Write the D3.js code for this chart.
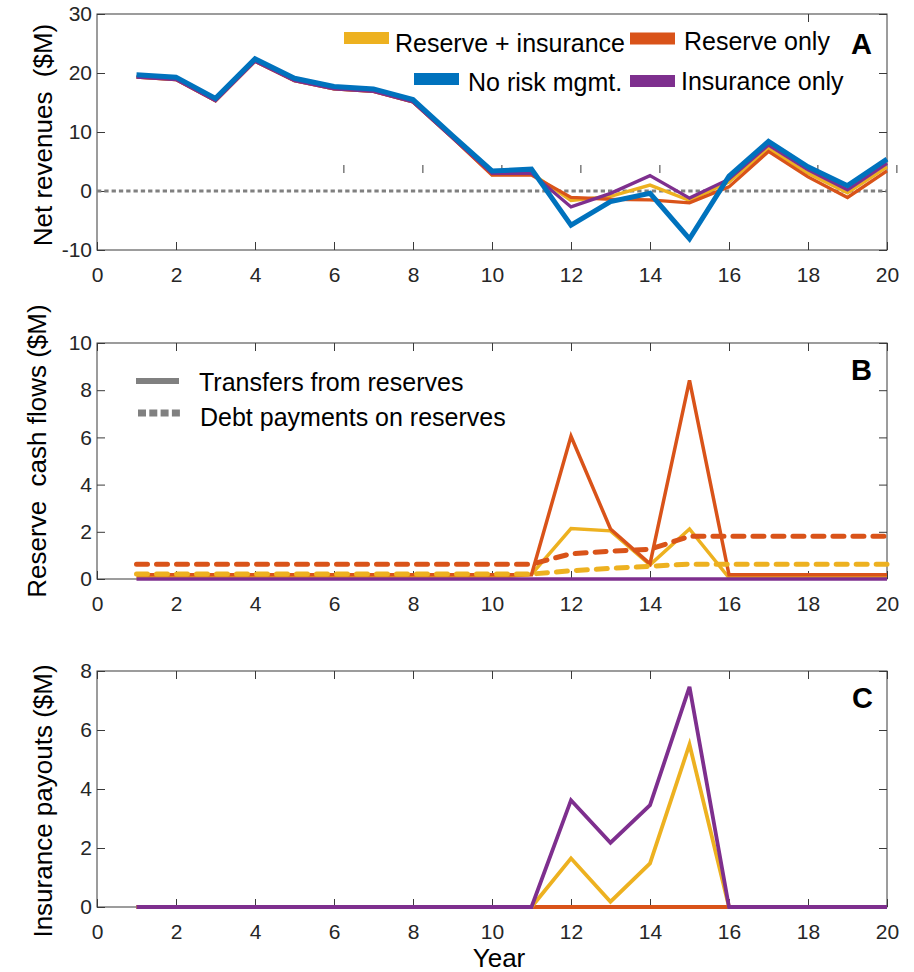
<!DOCTYPE html>
<html><head><meta charset="utf-8">
<script src="https://cdn.jsdelivr.net/npm/d3@7"></script>
<style>
body{margin:0;background:#fff;}
svg{display:block;font-family:"Liberation Sans",Arial,Helvetica,sans-serif;}
</style></head>
<body><svg id="c" width="914" height="972"></svg>
<script>
// ---- data ----
const years = [1,2,3,4,5,6,7,8,9,10,11,12,13,14,15,16,17,18,19,20];
const xTicks = [0,2,4,6,8,10,12,14,16,18,20];

// Panel A: net revenues ($M)
const netNoRisk      = [19.7,19.3,15.7,22.4,19.1,17.7,17.3,15.5,9.4,3.4,3.7,-5.8,-1.8,-0.4,-8.1,2.5,8.4,4.1,0.9,5.4];
const netReserveIns  = [19.3,18.9,15.3,22.0,18.7,17.3,16.9,15.1,9.0,2.8,3.0,-1.6,-0.9,1.0,-1.6,1.5,7.2,3.0,-0.3,4.1];
const netReserveOnly = [19.3,18.9,15.3,22.0,18.7,17.3,16.9,15.1,9.0,2.7,2.7,-1.1,-1.4,-1.5,-2.0,0.7,6.7,2.4,-1.1,3.4];
const netInsOnly     = [19.3,18.9,15.3,22.0,18.7,17.3,16.9,15.1,9.0,3.0,3.0,-2.7,-0.4,2.6,-1.2,2.0,7.8,3.6,0.2,4.7];
const yTicksA = [-10,0,10,20,30];
const legendBoxTicks = [6.25,8.25,10.25,12.25,14.25,16.25,18.25,20.25];

// Panel B: reserve cash flows ($M)
const transferReserveOnly = [0.18,0.18,0.18,0.18,0.18,0.18,0.18,0.18,0.18,0.18,0.18,6.05,2.12,0.64,8.42,0.18,0.18,0.18,0.18,0.18];
const transferReserveIns  = [0.05,0.05,0.05,0.05,0.05,0.05,0.05,0.05,0.05,0.05,0.2,2.14,2.04,0.6,2.12,0.05,0.05,0.05,0.05,0.05];
const transferInsOnly     = [0,0,0,0,0,0,0,0,0,0,0,0,0,0,0,0,0,0,0,0];
const debtReserveOnly     = [0.63,0.63,0.63,0.63,0.63,0.63,0.63,0.63,0.63,0.63,0.63,1.07,1.18,1.26,1.81,1.81,1.81,1.81,1.81,1.81];
const debtReserveIns      = [0.21,0.21,0.21,0.21,0.21,0.21,0.21,0.21,0.21,0.21,0.21,0.35,0.45,0.54,0.63,0.63,0.63,0.63,0.63,0.63];
const yTicksB = [0,2,4,6,8,10];

// Panel C: insurance payouts ($M)
const payReserveOnly = [0,0,0,0,0,0,0,0,0,0,0,0,0,0,0,0,0,0,0,0];
const payReserveIns  = [0,0,0,0,0,0,0,0,0,0,0,1.65,0.18,1.48,5.51,0,0,0,0,0];
const payInsOnly     = [0,0,0,0,0,0,0,0,0,0,0,3.62,2.18,3.45,7.46,0,0,0,0,0];
const yTicksC = [0,2,4,6,8];

const colors = {blue:"#0072BD", orange:"#D95319", yellow:"#EDB120", purple:"#7E2F8E", grey:"#808080"};
const axisColor = "#3a3a3a", textColor = "#262626";

const svg = d3.select("#c");
const L = 97, R = 887;
const x = d3.scaleLinear().domain([0,20]).range([L,R]);
const fmt = d => String(d); // plain hyphen-minus like the original

function panel(top, bottom, ydom, yticks, topTicks){
  const y = d3.scaleLinear().domain(ydom).range([bottom, top]);
  const g = svg.append("g");
  const ax = (a)=>{ a.selectAll(".domain").remove(); a.selectAll("line").attr("stroke",axisColor);
    a.selectAll("text").attr("fill",textColor).style("font-size","21px").style("font-family","'Liberation Sans',Arial,sans-serif"); };
  g.append("g").attr("transform",`translate(0,${bottom})`)
    .call(d3.axisBottom(x).tickValues(xTicks).tickFormat(fmt).tickSizeInner(-8).tickSizeOuter(0).tickPadding(17)).call(ax);
  g.append("g").attr("transform",`translate(0,${top})`)
    .call(d3.axisTop(x).tickValues(topTicks).tickFormat("").tickSizeInner(-8).tickSizeOuter(0)).call(ax);
  g.append("g").attr("transform",`translate(${L},0)`)
    .call(d3.axisLeft(y).tickValues(yticks).tickFormat(fmt).tickSizeInner(-8).tickSizeOuter(0).tickPadding(5)).call(ax);
  g.append("g").attr("transform",`translate(${R},0)`)
    .call(d3.axisRight(y).tickValues(yticks).tickFormat("").tickSizeInner(-8).tickSizeOuter(0)).call(ax);
  g.append("rect").attr("x",L).attr("y",top).attr("width",R-L).attr("height",bottom-top)
    .attr("fill","none").attr("stroke",axisColor).attr("stroke-width",1);
  return {g,y};
}
function drawLine(p, vals, color, w, dash){
  const line = d3.line().x((d,i)=>x(years[i])).y(d=>p.y(d));
  const path = p.g.append("path").datum(vals).attr("d",line).attr("fill","none")
    .attr("stroke",color).attr("stroke-width",w).attr("stroke-linejoin","miter");
  if(dash) path.attr("stroke-dasharray",dash).attr("stroke-linecap","round");
  return path;
}
function vlabel(text, cx, cy){
  svg.append("text").attr("transform",`translate(${cx},${cy}) rotate(-90)`).attr("text-anchor","middle")
    .style("font-size","26px").style("white-space","pre").attr("fill","#000").text(text);
}
function letter(t, xx, yy){
  svg.append("text").attr("x",xx).attr("y",yy).style("font-size","29px").style("font-weight","bold").attr("fill","#000").text(t);
}

// ---- Panel A ----
const A = panel(14, 250, [-10,30], yTicksA, [18]);
// legend-box tick artefacts
A.g.append("g").selectAll("line").data(legendBoxTicks).join("line")
  .attr("x1",d=>x(d)).attr("x2",d=>x(d)).attr("y1",165).attr("y2",173).attr("stroke",axisColor);
A.g.append("line").attr("x1",L).attr("x2",R).attr("y1",A.y(0)).attr("y2",A.y(0))
  .attr("stroke",colors.grey).attr("stroke-width",3).attr("stroke-dasharray","4.3,3");
drawLine(A, netReserveIns, colors.yellow, 3.3);
drawLine(A, netReserveOnly, colors.orange, 3.3);
drawLine(A, netInsOnly, colors.purple, 3.3);
drawLine(A, netNoRisk, colors.blue, 5);
vlabel("Net revenues  ($M)", 52, 135);
letter("A", 851, 54);
// legend A
const legA = [
  {t:"Reserve + insurance", c:colors.yellow, sx:344, sy:38, tx:395, ty:52},
  {t:"Reserve only", c:colors.orange, sx:630, sy:38.5, tx:684, ty:50},
  {t:"No risk mgmt.", c:colors.blue, sx:414, sy:79, tx:468, ty:91},
  {t:"Insurance only", c:colors.purple, sx:630, sy:81, tx:681, ty:90}
];
legA.forEach(d=>{
  svg.append("line").attr("x1",d.sx).attr("x2",d.sx+45).attr("y1",d.sy).attr("y2",d.sy).attr("stroke",d.c).attr("stroke-width",12);
  svg.append("text").attr("x",d.tx).attr("y",d.ty).style("font-size","25px").attr("fill","#000").text(d.t);
});

// ---- Panel B ----
const B = panel(343, 579, [0,10], yTicksB, xTicks);
drawLine(B, transferReserveIns, colors.yellow, 3.5);
drawLine(B, transferReserveOnly, colors.orange, 3.5);
drawLine(B, debtReserveOnly, colors.orange, 5, "11,9");
drawLine(B, debtReserveIns, colors.yellow, 5, "11,9");
drawLine(B, transferInsOnly, colors.purple, 3.5);
vlabel("Reserve  cash flows ($M)", 46, 451);
letter("B", 851, 380);
svg.append("line").attr("x1",136).attr("x2",179).attr("y1",381).attr("y2",381).attr("stroke",colors.grey).attr("stroke-width",6);
svg.append("line").attr("x1",138).attr("x2",180).attr("y1",413).attr("y2",413).attr("stroke",colors.grey).attr("stroke-width",7).attr("stroke-dasharray","8,3.3");
svg.append("text").attr("x",199).attr("y",391).style("font-size","25px").attr("fill","#000").text("Transfers from reserves");
svg.append("text").attr("x",200).attr("y",426).style("font-size","25px").attr("fill","#000").text("Debt payments on reserves");

// ---- Panel C ----
const C = panel(671, 907, [0,8], yTicksC, xTicks);
drawLine(C, payReserveOnly, colors.orange, 3.8);
drawLine(C, payReserveIns, colors.yellow, 3.8);
drawLine(C, payInsOnly, colors.purple, 3.8);
vlabel("Insurance payouts ($M)", 52, 801);
letter("C", 852, 708);
svg.append("text").attr("x",499).attr("y",967).attr("text-anchor","middle").style("font-size","26px").attr("fill","#000").text("Year");
</script></body></html>
